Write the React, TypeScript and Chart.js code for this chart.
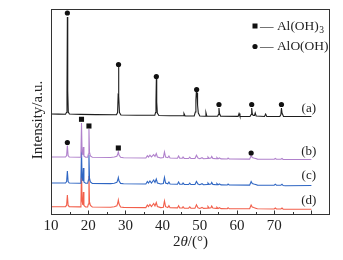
import React, { useEffect, useRef } from "react";
import { Chart, registerables } from "chart.js";
Chart.register(...registerables);

// 2θ (deg) vs. offset intensity (a.u.)
const curveA: [number, number][] = [
  [10, 101], [12, 100.9], [13.9, 100.8], [14.15, 102.5], [14.3, 122], [14.4, 198], [14.5, 124], [14.65, 103], [14.95, 101],
  [18, 100.6], [22, 100.4], [27.6, 100.2], [27.9, 102.5], [28.05, 120], [28.15, 148], [28.25, 119], [28.4, 102.5], [28.8, 100],
  [33, 99.8], [37.9, 99.7], [38.1, 102.5], [38.22, 114], [38.32, 136], [38.42, 113], [38.58, 102], [39, 99.5],
  [42, 99.3], [45.5, 99.2], [45.75, 101.5], [46.05, 99.1],
  [48.5, 99], [48.8, 103], [48.95, 115], [49.05, 122], [49.15, 121], [49.25, 122], [49.4, 110], [49.6, 102], [50, 99],
  [51.4, 98.8], [51.65, 102.5], [51.9, 98.9],
  [54.8, 98.7], [55.0, 100.5], [55.15, 107], [55.3, 101.5], [55.6, 98.7],
  [60.3, 98.6], [60.55, 101.5], [60.8, 98.6],
  [63.5, 98.5], [63.8, 100.5], [63.95, 107], [64.1, 101.5], [64.35, 99.5], [64.7, 99.5], [64.9, 102], [65.15, 99],
  [67.4, 98.5], [67.7, 101], [68.0, 98.5],
  [71.5, 98.5], [71.8, 100.5], [71.95, 107], [72.1, 102], [72.5, 98.6], [76, 98.5], [80, 98.5],
];

const curveB: [number, number][] = [
  [10, 58], [13.9, 58], [14.2, 59.5], [14.4, 69.5], [14.6, 59.5], [14.9, 58],
  [17.8, 57.8], [18.05, 61], [18.2, 92], [18.35, 64], [18.55, 60], [18.7, 68], [18.85, 59], [19.3, 57.8],
  [19.85, 57.7], [20.05, 61], [20.2, 86], [20.35, 63], [20.6, 59], [21.1, 57.7],
  [26.0, 57.5], [27.0, 58], [27.7, 58.8], [27.95, 61], [28.1, 63], [28.3, 60], [28.7, 57.8], [29.5, 57.3],
  [35.5, 57], [35.9, 59.3], [36.2, 57.8], [36.6, 59.8], [37.0, 58], [37.6, 60.3], [37.95, 58.5], [38.3, 61.5], [38.6, 58], [39.5, 57], [40.2, 57.5], [40.5, 63], [40.8, 58], [41.4, 57.3], [41.7, 59], [42.0, 57],
  [44.0, 56.8], [44.3, 59], [44.6, 56.8], [45.3, 56.7], [45.5, 58], [45.8, 56.6], [47.0, 56.5], [47.3, 57.8], [47.6, 56.5], [48.7, 56.5], [49.1, 59.8], [49.5, 57], [50.0, 56.3], [50.6, 57.3], [51.0, 56.3], [52.0, 56.5], [52.2, 58], [52.5, 56.6], [53.0, 57], [53.2, 58.5], [53.5, 56.6], [54.4, 56.3], [54.6, 57.5], [54.9, 56.2], [55.3, 57], [55.7, 56.1], [57.4, 56], [57.6, 57], [57.9, 56],
  [63.4, 55.9], [63.8, 59.5], [64.1, 57.5], [64.5, 57], [65, 56.5], [65.5, 55.9], [70, 55.7], [70.3, 56.5], [70.6, 55.7], [71.8, 55.7], [72.1, 56.5], [72.4, 55.6], [80, 55.5],
];

const curveC: [number, number][] = [
  [10, 32], [13.9, 32], [14.2, 33.5], [14.4, 44], [14.6, 33.5], [14.9, 32],
  [17.8, 31.8], [18.05, 35], [18.2, 65], [18.35, 38], [18.55, 34], [18.7, 47], [18.85, 33], [19.3, 31.8],
  [19.85, 31.7], [20.05, 35], [20.2, 60], [20.35, 37], [20.6, 33], [21.1, 31.6],
  [26, 31.4], [27, 31.8], [27.7, 32.6], [27.95, 35], [28.1, 37.5], [28.3, 34], [28.7, 31.6], [29.5, 31.2],
  [35.5, 31], [35.9, 33.5], [36.2, 32], [36.6, 34], [37, 32], [37.6, 35], [37.95, 32.5], [38.3, 36], [38.6, 32], [39.5, 31], [40.2, 31.5], [40.5, 37.5], [40.8, 32], [41.4, 31.2], [41.7, 33], [42, 31],
  [44, 30.8], [44.3, 33], [44.6, 30.8], [45.3, 30.7], [45.5, 32], [45.8, 30.6], [47, 30.5], [47.3, 31.8], [47.6, 30.5], [48.7, 30.5], [49.1, 33.5], [49.5, 31], [50, 30.3], [50.6, 31.3], [51, 30.3], [52, 30.5], [52.2, 32], [52.5, 30.6], [53, 31], [53.2, 32.5], [53.5, 30.6], [54.4, 30.3], [54.6, 31.5], [54.9, 30.2], [55.3, 31], [55.7, 30.1], [57.4, 30], [57.6, 31], [57.9, 30],
  [63.4, 29.9], [63.8, 33.5], [64.1, 31.5], [64.5, 31], [65, 30.5], [65.5, 29.9], [70, 29.8], [70.3, 30.8], [70.6, 29.8], [71.8, 29.8], [72.1, 30.8], [72.4, 29.5], [73, 29.3], [80, 29.5],
];

const curveD: [number, number][] = [
  [10, 8.3], [13.9, 8.3], [14.2, 9.8], [14.4, 20], [14.6, 9.8], [14.9, 8.3],
  [17.8, 8.1], [18.05, 11], [18.2, 45], [18.35, 14], [18.55, 10], [18.7, 23], [18.85, 9.5], [19.3, 8.1],
  [19.85, 8], [20.05, 11], [20.2, 39], [20.35, 13], [20.6, 9.5], [21.1, 8],
  [26, 7.8], [27, 8.2], [27.7, 9.2], [27.95, 12], [28.1, 15], [28.3, 11], [28.7, 8], [29.5, 7.6],
  [35.5, 7.4], [35.9, 10], [36.2, 8.5], [36.6, 10.5], [37, 8.5], [37.6, 11.5], [37.95, 9], [38.3, 12.5], [38.6, 8.5], [39.5, 7.4], [40.2, 7.8], [40.5, 14], [40.8, 8.3], [41.4, 7.5], [41.7, 9.3], [42, 7.3],
  [44, 7.1], [44.3, 9.3], [44.6, 7.1], [45.3, 7], [45.5, 8.3], [45.8, 6.9], [47, 6.8], [47.3, 8.1], [47.6, 6.8], [48.7, 6.8], [49.1, 10.3], [49.5, 7.3], [50, 6.6], [50.6, 7.6], [51, 6.6], [52, 6.8], [52.2, 8.5], [52.5, 6.9], [53, 7.3], [53.2, 9], [53.5, 6.9], [54.4, 6.6], [54.6, 7.8], [54.9, 6.5], [55.3, 7.3], [55.7, 6.4], [57.4, 6.3], [57.6, 7.3], [57.9, 6.3],
  [63.4, 6.2], [63.8, 10], [64.1, 8], [64.5, 7.4], [65, 6.8], [65.5, 6.2], [70, 6], [70.3, 7], [70.6, 6], [71.8, 6], [72.1, 7], [72.4, 5.8], [80, 5.7],
];

// phase markers
const boehmiteX = [14.4, 28.15, 38.32, 49.15, 55.15, 63.95, 71.95, 14.4, 63.8];
const boehmiteY = [202, 150.5, 138.5, 125.5, 110.5, 110.5, 110.5, 72.5, 62];
const gibbsiteX = [18.2, 20.2, 28.1];
const gibbsiteY = [95.7, 89, 67];

const curveNames = ["(a)", "(b)", "(c)", "(d)"];
const curveNameY = [106, 63.3, 39.3, 14];
const curveNameX = 79.3;
const curveColors = ["#1e1e1e", "#b081cc", "#2f66c3", "#f25f4b"];

const legendTexts = ["— Al(OH)", "— AlO(OH)"];
const legendSubs = ["3", ""];
const xMajorTicks = [10, 20, 30, 40, 50, 60, 70, 80];

const SERIF = '"Liberation Serif", "Times New Roman", serif';
const INK = "#222";

const decorPlugin = {
  id: "decor",
  afterDraw(chart: any) {
    const { ctx, chartArea: ca, scales } = chart;
    const xs = scales.x;
    const ys = scales.y;
    ctx.save();
    // frame
    ctx.strokeStyle = "#333";
    ctx.lineWidth = 1;
    const l = Math.round(ca.left) + 0.5;
    const t = Math.round(ca.top) + 0.5;
    const r = Math.round(ca.right) - 0.5;
    const b = Math.round(ca.bottom) - 0.5;
    ctx.strokeRect(l, t, r - l, b - t);
    // inward ticks
    ctx.beginPath();
    for (let v = xs.min + 5; v < xs.max; v += 5) {
      const px = Math.round(xs.getPixelForValue(v)) + 0.5;
      const len = xMajorTicks.includes(v) ? 4 : 2.5;
      ctx.moveTo(px, b);
      ctx.lineTo(px, b - len);
    }
    ctx.stroke();

    ctx.fillStyle = INK;
    // x title: 2θ/(°)
    ctx.textBaseline = "middle";
    ctx.textAlign = "left";
    const parts: [string, string][] = [["2", "normal"], ["θ", "italic"], ["/(°)", "normal"]];
    let total = 0;
    const widths: number[] = [];
    for (const [s, st] of parts) {
      ctx.font = `${st} 15px ${SERIF}`;
      const w = ctx.measureText(s).width;
      widths.push(w);
      total += w;
    }
    let cx = (ca.left + ca.right) / 2 - total / 2;
    const ty = ca.bottom + 27;
    parts.forEach(([s, st], i) => {
      ctx.font = `${st} 15px ${SERIF}`;
      ctx.fillText(s, cx, ty);
      cx += widths[i];
    });

    // y title
    ctx.save();
    ctx.translate(ca.left - 13, (ca.top + ca.bottom) / 2 + 8);
    ctx.rotate(-Math.PI / 2);
    ctx.textAlign = "center";
    ctx.font = `15px ${SERIF}`;
    ctx.fillText("Intensity/a.u.", 0, 0);
    ctx.restore();

    // legend
    const rows = [ca.top + 17, ca.top + 37.5];
    const mx = ca.right - 75;
    legendTexts.forEach((txt, i) => {
      const yy = rows[i];
      ctx.fillStyle = "#111";
      if (i === 0) {
        ctx.fillRect(mx - 2.5, yy - 2.5, 5, 5);
      } else {
        ctx.beginPath();
        ctx.arc(mx, yy, 2.6, 0, Math.PI * 2);
        ctx.fill();
      }
      ctx.fillStyle = INK;
      ctx.font = `13.5px ${SERIF}`;
      ctx.textAlign = "left";
      ctx.textBaseline = "middle";
      ctx.fillText(txt, mx + 5, yy);
      if (legendSubs[i]) {
        const w = ctx.measureText(txt).width;
        ctx.font = `9.5px ${SERIF}`;
        ctx.fillText(legendSubs[i], mx + 5 + w + 0.5, yy + 4);
      }
    });

    // curve names
    ctx.font = `13px ${SERIF}`;
    ctx.textAlign = "center";
    ctx.textBaseline = "middle";
    curveNames.forEach((n, i) => {
      ctx.fillText(n, xs.getPixelForValue(curveNameX), ys.getPixelForValue(curveNameY[i]));
    });
    ctx.restore();
  },
};

export default function App() {
  const ref = useRef<HTMLCanvasElement | null>(null);
  useEffect(() => {
    if (!ref.current) return;
    const toPts = (arr: [number, number][]) => arr.map(([x, y]) => ({ x, y }));
    const curves = [curveA, curveB, curveC, curveD];
    const chart = new Chart(ref.current, {
      type: "line",
      data: {
        datasets: [
          {
            type: "scatter",
            label: "AlO(OH)",
            data: boehmiteX.map((x, i) => ({ x, y: boehmiteY[i] })),
            pointStyle: "circle",
            pointRadius: 2.6,
            pointBorderWidth: 0,
            pointBackgroundColor: "#111",
            showLine: false,
          } as any,
          {
            type: "scatter",
            label: "Al(OH)3",
            data: gibbsiteX.map((x, i) => ({ x, y: gibbsiteY[i] })),
            pointStyle: "rect",
            pointRadius: 3.6,
            pointBorderWidth: 0,
            pointBackgroundColor: "#111",
            showLine: false,
          } as any,
          ...curves.map((c, i) => ({
            label: curveNames[i],
            data: toPts(c),
            borderColor: curveColors[i],
            borderWidth: 1.1,
            pointRadius: 0,
            tension: 0,
            fill: false,
          })),
        ],
      },
      options: {
        animation: false,
        responsive: false,
        devicePixelRatio: 1,
        layout: { padding: { left: 51, right: 13, top: 9, bottom: 0 } },
        plugins: { legend: { display: false }, tooltip: { enabled: false } },
        scales: {
          x: {
            type: "linear",
            min: 10,
            max: 85,
            grid: { display: false, drawTicks: false, tickLength: 0 },
            border: { display: false },
            ticks: {
              stepSize: 10,
              autoSkip: false,
              maxRotation: 0,
              padding: 2,
              color: INK,
              font: { family: SERIF, size: 15 },
              callback: (v: any) => (xMajorTicks.includes(Number(v)) ? String(v) : ""),
            },
            afterFit: (s: any) => {
              s.height = 45;
            },
          },
          y: {
            display: false,
            min: 0,
            max: 206,
          },
        },
      },
      plugins: [decorPlugin],
    });
    return () => chart.destroy();
  }, []);
  return (
    <div style={{ position: "absolute", left: 0, top: 0, width: 343, height: 260, background: "#fff" }}>
      <canvas ref={ref} width={343} height={260} style={{ width: 343, height: 260, display: "block" }} />
    </div>
  );
}
